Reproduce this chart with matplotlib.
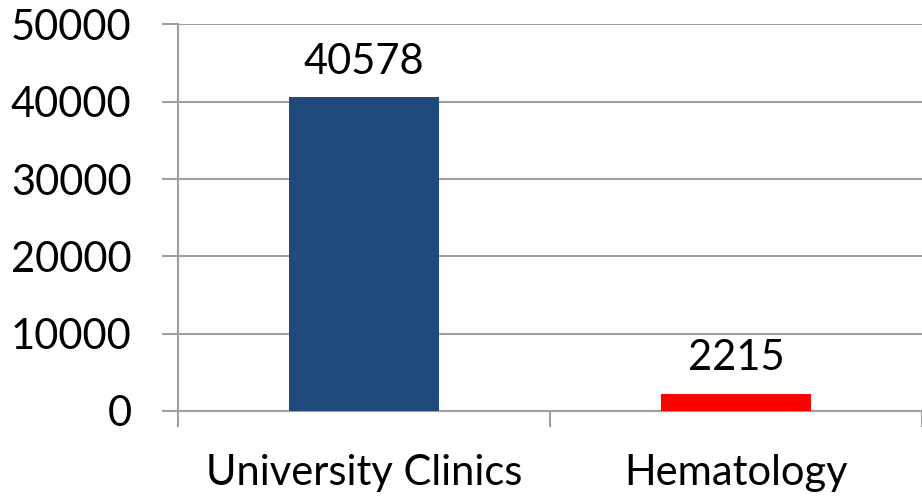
import matplotlib
matplotlib.use("Agg")
import matplotlib.pyplot as plt
from matplotlib.ticker import FixedLocator, NullFormatter

categories = ["University Clinics", "Hematology"]
values = [40578, 2215]
bar_colors = ["#214A7C", "#FF0000"]
y_ticks = [0, 10000, 20000, 30000, 40000, 50000]

plt.rcParams["font.family"] = ["Lato", "DejaVu Sans"]

fig = plt.figure(figsize=(9.22, 5.0), dpi=100)
ax = fig.add_axes([178 / 922, 89 / 500, 744 / 922, 386.5 / 500])

grid_c = "#A0A0A0"
fs = 30
x = list(range(len(categories)))
ax.bar(x, values, width=0.403, color=bar_colors, zorder=3)

for xi, v in zip(x, values):
    ax.annotate(str(v), (xi, v), xytext=(0, 12), textcoords="offset points",
                ha="center", va="bottom", fontsize=fs, color="black")

ax.set_xlim(-0.5, len(categories) - 0.5)
ax.set_ylim(0, 50000)
ax.set_yticks(y_ticks)
ax.set_yticklabels([str(t) for t in y_ticks], fontsize=fs)
ax.yaxis.grid(True, color=grid_c, linewidth=1.5, zorder=0)

# category boundaries carry the tick marks, labels sit at the centres
ax.xaxis.set_major_locator(FixedLocator([i - 0.5 for i in range(len(categories) + 1)]))
ax.xaxis.set_major_formatter(NullFormatter())
ax.xaxis.set_minor_locator(FixedLocator(x))
ax.set_xticklabels(categories, minor=True, fontsize=fs)
ax.tick_params(axis="x", which="minor", length=0, pad=31)
ax.tick_params(axis="x", which="major", length=11.5, width=1.5, color=grid_c)
ax.tick_params(axis="y", length=11.5, width=1.5, color=grid_c, pad=22)

for side in ("top", "right"):
    ax.spines[side].set_visible(False)
for side in ("left", "bottom"):
    ax.spines[side].set_color(grid_c)
    ax.spines[side].set_linewidth(1.5)

fig.savefig("out.png", dpi=100)
